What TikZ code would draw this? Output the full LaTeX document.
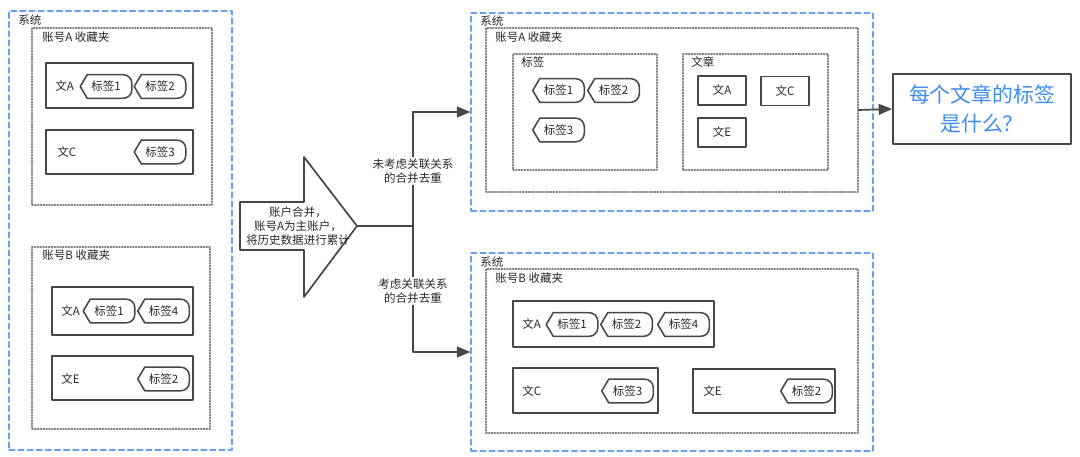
\documentclass[tikz,border=0pt]{standalone}
\usepackage{fontspec}
\setmainfont{Noto Sans CJK SC}
\usetikzlibrary{arrows,fit}
\definecolor{sysblue}{RGB}{100,160,245}
\definecolor{qblue}{RGB}{60,140,240}
\definecolor{linegray}{RGB}{70,70,70}
\definecolor{textgray}{RGB}{40,40,40}
\tikzset{
  sysbox/.style={draw=sysblue,line width=1pt,dash pattern=on 4pt off 2.5pt,inner sep=0pt},
  accbox/.style={draw=gray,line width=1pt,dash pattern=on 0.8pt off 1.2pt,inner sep=0pt},
  artbox/.style={draw=linegray,line width=1.4pt,inner sep=0pt},
  txt/.style={text=textgray,font=\fontsize{8.2}{10}\selectfont,inner sep=0pt},
  tagtext/.style={txt,minimum width=1.275cm,minimum height=0.575cm},
  tagline/.style={draw=linegray,line width=1.1pt},
  artnode/.style={artbox,txt,minimum width=1.2cm,minimum height=0.725cm},
  conn/.style={draw=linegray,line width=1.2pt},
  edgelbl/.style={txt,fill=white,align=center,inner sep=1.5pt,font=\fontsize{8.2}{9.5}\selectfont}
}
% tag: name, x, y, text
\newcommand{\tagat}[4]{%
  \node[tagtext] (#1) at (#2,#3) {#4};
  \draw[tagline] (#1.west) -- ([xshift=5pt]#1.north west) -- ([xshift=-6pt]#1.north east)
    arc[start angle=90,end angle=0,radius=6pt] -- ([yshift=6pt]#1.south east)
    arc[start angle=0,end angle=-90,radius=6pt] -- ([xshift=5pt]#1.south west) -- cycle;}

\begin{document}
\begin{tikzpicture}[line cap=round,line join=round,>=triangle 45,x=0.025cm,y=-0.025cm]
  \useasboundingbox (0,0) rectangle (1080,457);

  % left system
  \node[sysbox,fit={(9,11) (232,450)}] (sysL) {};
  \node[txt,anchor=west] (sysLlbl) at (18,20) {系统};

  \node[accbox,fit={(32,28) (212,205)}] (accLA) {};
  \node[txt,anchor=west] (accLAlbl) at (42,37) {账号A 收藏夹};
  \node[artbox,fit={(46,63) (193,108)}] (artLA) {};
  \node[txt,anchor=west] (artLAlbl) at (55,86) {文A};
  \tagat{tLA1}{106}{86.5}{标签1}
  \tagat{tLA2}{160}{86.5}{标签2}
  \node[artbox,fit={(46,130) (193,174)}] (artLC) {};
  \node[txt,anchor=west] (artLClbl) at (57,152) {文C};
  \tagat{tLC3}{160}{152}{标签3}

  \node[accbox,fit={(32,247) (210,429)}] (accLB) {};
  \node[txt,anchor=west] (accLBlbl) at (42,255) {账号B 收藏夹};
  \node[artbox,fit={(52,287) (193,335)}] (artLBA) {};
  \node[txt,anchor=west] (artLBAlbl) at (61,311) {文A};
  \tagat{tLB1}{109}{311}{标签1}
  \tagat{tLB4}{163.5}{311}{标签4}
  \node[artbox,fit={(52,356) (193,400)}] (artLBE) {};
  \node[txt,anchor=west] (artLBElbl) at (61,379) {文E};
  \tagat{tLB2}{163.5}{379}{标签2}

  % merge arrow
  \draw[conn,fill=white] (240,202) -- (304,202) -- (304,157) -- (357,226) -- (304,297) -- (304,250) -- (240,250) -- cycle;
  \coordinate (tip) at (357,226);
  \coordinate (fork) at (413,226);
  \node[txt,align=center] (mergetxt) at (298,226) {账户合并，\\账号A为主账户，\\将历史数据进行累计};

  % right top system
  \node[sysbox,fit={(471,13) (873,211)}] (sysR1) {};
  \node[txt,anchor=west] (sysR1lbl) at (480,21) {系统};
  \node[accbox,fit={(486,28) (858,192)}] (accR1) {};
  \node[txt,anchor=west] (accR1lbl) at (495,37) {账号A 收藏夹};
  \node[accbox,fit={(513,54) (657,170)}] (tagsR1) {};
  \node[txt,anchor=west] (tagsR1lbl) at (521,62) {标签};
  \tagat{tR1}{558.5}{90.5}{标签1}
  \tagat{tR2}{613.5}{90.5}{标签2}
  \tagat{tR3}{558.5}{130}{标签3}
  \node[accbox,fit={(683,54) (828,170)}] (artsR1) {};
  \node[txt,anchor=west] (artsR1lbl) at (691,62) {文章};
  \node[artnode] (aR1A) at (722,90.5) {文A};
  \node[artnode] (aR1C) at (785,91) {文C};
  \node[artnode] (aR1E) at (722,132.5) {文E};

  % question
  \node[artbox,fit={(893,74) (1071,144)}] (qbox) {};
  \node[text=qblue,font=\fontsize{14.8}{20}\selectfont,align=center,inner sep=0pt] (qtext) at (qbox.center) {每个文章的标签\\是什么？};

  % right bottom system
  \node[sysbox,fit={(471,253) (873,451)}] (sysR2) {};
  \node[txt,anchor=west] (sysR2lbl) at (480,262) {系统};
  \node[accbox,fit={(486,269) (858,433)}] (accR2) {};
  \node[txt,anchor=west] (accR2lbl) at (495,278) {账号B 收藏夹};
  \node[artbox,fit={(513,301) (714,347)}] (aR2A) {};
  \node[txt,anchor=west] (aR2Albl) at (522,324.5) {文A};
  \tagat{tR2A1}{572}{324.5}{标签1}
  \tagat{tR2A2}{626.5}{324.5}{标签2}
  \tagat{tR2A4}{683.5}{324.5}{标签4}
  \node[artbox,fit={(513,368) (658,413)}] (aR2C) {};
  \node[txt,anchor=west] (aR2Clbl) at (522,391) {文C};
  \tagat{tR2C3}{627.5}{391}{标签3}
  \node[artbox,fit={(693,369) (835,413)}] (aR2E) {};
  \node[txt,anchor=west] (aR2Elbl) at (703,391) {文E};
  \tagat{tR2E2}{806.5}{391}{标签2}

  % connectors
  \draw[conn] (tip) -- (fork);
  \draw[conn,->] (fork) |- (sysR1.west);
  \draw[conn,->] (fork) |- (sysR2.west);
  \draw[conn,->] (accR1.east) -- (qbox.west);
  \node[edgelbl] (lblno) at (413,171) {未考虑关联关系\\的合并去重};
  \node[edgelbl] (lblyes) at (413,291) {考虑关联关系\\的合并去重};
\end{tikzpicture}
\end{document}
